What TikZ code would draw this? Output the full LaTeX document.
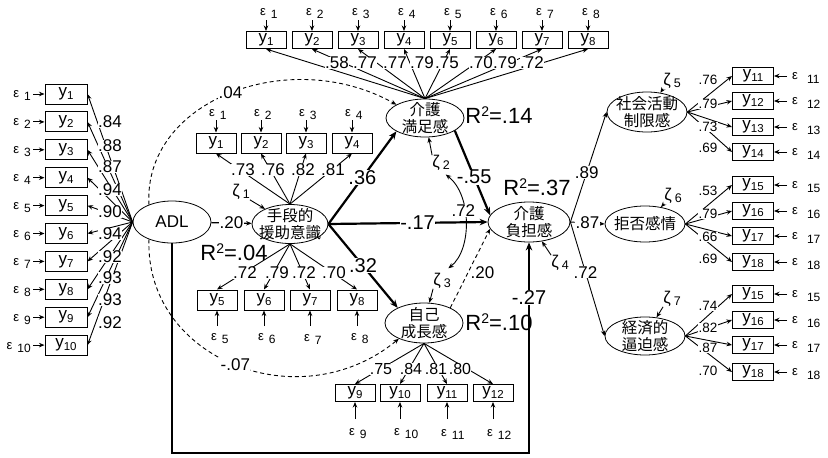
\documentclass[tikz,border=0pt]{standalone}
\usepackage{fontspec}
\setmainfont{Liberation Sans}
\newfontfamily\jp{Noto Sans CJK JP}
\usetikzlibrary{arrows.meta, positioning, calc, shapes.geometric}

\newcommand{\fs}[1]{\fontsize{#1}{#1}\selectfont}
\newcommand{\yv}[1]{y\raisebox{-3pt}{\fs{11.5}#1}}
\newcommand{\ep}[1]{{\fs{13}ε}\hspace{5pt}\raisebox{-3pt}{#1}}
\newcommand{\epr}[1]{{\fs{13}ε}\hspace{9pt}\raisebox{-4pt}{#1}}
\newcommand{\zt}[1]{{\fs{17}ζ}\hspace{3pt}\raisebox{-2pt}{#1}}
\newcommand{\rsq}[1]{R\raisebox{7pt}{\fs{14}2}=#1}

\begin{document}
\begin{tikzpicture}[x=1pt, y=-1pt,
  latent/.style={draw, ellipse, line width=0.8pt, fill=white, inner sep=0pt,
    minimum width=78pt, minimum height=39pt, label={[jplbl]center:{#1}}},
  jplbl/.style={font=\jp\fontsize{15.5}{17.5}\selectfont, align=center, inner sep=0pt},
  obs/.style={draw, line width=1pt, fill=white, minimum width=40pt,
    minimum height=18pt, inner sep=0pt, font=\fs{17}},
  epsl/.style={inner sep=0pt, font=\fs{12}},
  zetal/.style={inner sep=0pt, font=\fs{12.5}},
  ld/.style={fill=white, inner sep=0.3pt, font=\fs{17}},
  ldsm/.style={fill=white, inner sep=0.3pt, font=\fs{13.5}},
  coef/.style={fill=white, inner sep=0.5pt, font=\fs{20}},
  rsql/.style={inner sep=0pt, font=\fs{22}},
  lnk/.style={-{Stealth[length=5.5pt, width=4.5pt]}, line width=0.9pt},
  strong/.style={-{Stealth[length=8pt, width=6.5pt]}, line width=2.2pt},
  covdash/.style={-{Stealth[length=5.5pt, width=4.5pt]}, line width=0.9pt,
    dash pattern=on 4pt off 3pt},
  cov/.style={{Stealth[length=5.5pt, width=4.5pt]}-{Stealth[length=5.5pt, width=4.5pt]},
    line width=0.9pt}
]

% Background
\fill[white] (0,0) rectangle (828,458);
\useasboundingbox (0,0) rectangle (828,458);

% Latent variables
\node[latent={}, minimum height=42pt, font=\fs{17}] (adl) at (172,222) {ADL};
\node[latent={手段的\\援助意識}, minimum width=76pt] (shudan) at (290,224) {};
\node[latent={介護\\満足感}, minimum height=38pt] (manzoku) at (425,118) {};
\node[latent={介護\\負担感}, minimum width=82pt, minimum height=40pt] (futan) at (529,222) {};
\node[latent={自己\\成長感}, minimum height=40pt] (seicho) at (424,323) {};
\node[latent={社会活動\\制限感}, minimum width=80pt, minimum height=40pt] (shakai) at (647,112) {};
\node[latent={拒否感情}, minimum width=80pt, minimum height=36pt] (kyohi) at (645,224) {};
\node[latent={経済的\\逼迫感}, minimum width=80pt, minimum height=38pt] (keizai) at (645,336) {};

% ADL indicators
\foreach \i in {1,...,10} {
  \node[obs, minimum width=42pt, minimum height=20pt] (d\i) at (66,{94+27.9*(\i-1)}) {\yv{\i}};
  \coordinate (td\i) at (33,{94+27.9*(\i-1)});
  \draw[lnk] (td\i) -- (d\i.west);
  \node[epsl, anchor=east] at (31,{96+27.9*(\i-1)}) {\ep{\i}};
  \draw[lnk] (adl.west) -- (d\i.east);
}
\foreach \v/\y in {.84/122, .88/146, .87/167, .94/190, .90/212, .94/234, .92/257, .93/278, .93/300, .92/323}
  \node[ld] at (110,\y) {\v};

% indicators of kaigo manzoku
\foreach \i in {1,...,8} {
  \node[obs, minimum height=17pt] (m\i) at ({266+46*(\i-1)},40) {\yv{\i}};
  \coordinate (tm\i) at ({266+46*(\i-1)},20);
  \draw[lnk] (tm\i) -- (m\i.north);
  \node[epsl, anchor=west] at ({260+46*(\i-1)},14) {\ep{\i}};
  \draw[lnk] (manzoku.north) -- (m\i.south);
}
\foreach \x/\v in {337/.58, 365/.77, 395/.77, 422/.79, 447/.75, 481/.70, 505/.79, 532/.72}
  \node[ld] at (\x,63) {\v};

% indicators of shudan (upper)
\foreach \i/\x in {1/216, 2/261, 3/306, 4/352} {
  \node[obs, minimum height=20pt] (a\i) at (\x,143) {\yv{\i}};
  \coordinate (ta\i) at (\x,120);
  \draw[lnk] (ta\i) -- (a\i.north);
  \node[epsl, anchor=west] at ({\x-7},115) {\ep{\i}};
  \draw[lnk] (shudan.north) -- (a\i.south);
}
\foreach \v/\x in {.73/243, .76/273, .82/303, .81/333}
  \node[ld] at (\x,170) {\v};

% indicators of shudan (lower)
\foreach \i/\x in {5/217, 6/264, 7/310, 8/357} {
  \node[obs, minimum height=20pt] (a\i) at (\x,300) {\yv{\i}};
  \coordinate (ta\i) at (\x,326);
  \draw[lnk] (ta\i) -- (a\i.south);
  \node[epsl, anchor=west] at ({\x-6},339) {\ep{\i}};
  \draw[lnk] (shudan.south) -- (a\i.north);
}
\foreach \v/\x in {.72/245, .79/277, .72/304, .70/334}
  \node[ld] at (\x,273) {\v};

% indicators of seicho
\foreach \i/\x in {9/355, 10/400, 11/447, 12/493} {
  \node[obs, minimum height=17pt] (s\i) at (\x,393) {\yv{\i}};
  \coordinate (ts\i) at (\x,419);
  \draw[lnk] (ts\i) -- (s\i.south);
  \node[epsl, anchor=west] at ({\x-6},434) {\ep{\i}};
  \draw[lnk] (seicho.south) -- (s\i.north);
}
\foreach \v/\x in {.75/381, .84/411, .81/436, .80/460}
  \node[ld, font=\fs{16}] at (\x,369) {\v};

% right-hand indicators
\foreach \i/\y in {11/76, 12/101, 13/127, 14/152} {
  \node[obs, minimum width=41pt, minimum height=17pt] (sh\i) at (753,\y) {\yv{\i}};
  \coordinate (tsh\i) at (787,\y);
  \draw[lnk] (tsh\i) -- (sh\i.east);
  \node[epsl, anchor=west] at (792,{\y+2}) {\epr{\i}};
  \draw[lnk] (shakai.east) -- (sh\i.west);
}
\foreach \i/\y in {15/185, 16/211, 17/236, 18/262} {
  \node[obs, minimum width=41pt, minimum height=17pt] (ky\i) at (753,\y) {\yv{\i}};
  \coordinate (tky\i) at (787,\y);
  \draw[lnk] (tky\i) -- (ky\i.east);
  \node[epsl, anchor=west] at (792,{\y+2}) {\epr{\i}};
  \draw[lnk] (kyohi.east) -- (ky\i.west);
}
\foreach \i/\y in {15/294, 16/320, 17/345, 18/372} {
  \node[obs, minimum width=41pt, minimum height=17pt] (kz\i) at (753,\y) {\yv{\i}};
  \coordinate (tkz\i) at (787,\y);
  \draw[lnk] (tkz\i) -- (kz\i.east);
  \node[epsl, anchor=west] at (792,{\y+2}) {\epr{\i}};
  \draw[lnk] (keizai.east) -- (kz\i.west);
}
\foreach \v/\y in {.76/80, .79/104, .73/127, .69/148, .53/191, .79/214, .66/237, .69/259,
                   .74/306, .82/328, .87/348, .70/371}
  \node[ldsm] at (708,\y) {\v};

% structural paths
\draw[lnk, line width=1.2pt] (adl) -- node[ld]{.20} (shudan);
\draw[strong] (shudan.east) -- node[coef]{.36} (manzoku.205);
\draw[strong] (shudan.east) -- node[coef, pos=0.56]{-.17} (futan.west);
\draw[strong] (shudan.east) -- node[coef]{.32} (seicho.150);
\draw[strong] (manzoku.-23) -- node[coef, pos=0.55]{-.55} (futan.170);
\draw[covdash] (seicho.30) -- node[right, pos=0.45, inner sep=2pt, font=\fs{17}]{.20} (futan.190);
\draw[lnk] (futan.east) -- node[ld, pos=0.45]{.89} (shakai.west);
\draw[lnk] (futan.east) -- node[ld]{.87} (kyohi.west);
\draw[lnk] (futan.east) -- node[ld, pos=0.44]{.72} (keizai.west);

% ADL to kaigo futan
\coordinate (fl) at (172,453);
\coordinate (fr) at (529,453);
\draw[strong] (adl.south) -- (fl) -- (fr) -- (futan.south) node[coef, pos=0.74]{-.27};

% correlations of ADL
\draw[covdash] (adl.143) .. controls (143,100) and (290,45) .. (manzoku.155)
  node[ld, pos=0.5]{.04};
\draw[covdash] (adl.217) .. controls (145,360) and (300,420) .. (seicho.212)
  node[ld, pos=0.5]{-.07};

% disturbances
\node[zetal] (z1) at (241,192) {\zt{1}};
\node[zetal] (z2) at (441,163) {\zt{2}};
\node[zetal] (z3) at (442,281) {\zt{3}};
\node[zetal] (z4) at (560,263) {\zt{4}};
\node[zetal] (z5) at (672,81) {\zt{5}};
\node[zetal] (z6) at (673,196) {\zt{6}};
\node[zetal] (z7) at (672,299) {\zt{7}};
\draw[lnk] (z1.south east) -- (shudan);
\draw[lnk] (z2.north west) -- (manzoku);
\draw[lnk] (z3.south west) -- (seicho);
\draw[lnk] (z4.north west) -- (futan);
\draw[lnk] (z5.south west) -- (shakai);
\draw[lnk] (z6.south west) -- (kyohi);
\draw[lnk] (z7.south west) -- (keizai);
\draw[cov, shorten <=6pt, shorten >=8pt] (z2.south) .. controls (472,195) and (472,250) .. (z3.north)
  node[ld, pos=0.4]{.72};

% R squared
\node[rsql] (r2manzoku) at (499,115) {\rsq{.14}};
\node[rsql] (r2futan) at (537,187) {\rsq{.37}};
\node[rsql] (r2shudan) at (234,252) {\rsq{.04}};
\node[rsql] (r2seicho) at (499,322) {\rsq{.10}};

\end{tikzpicture}
\end{document}
